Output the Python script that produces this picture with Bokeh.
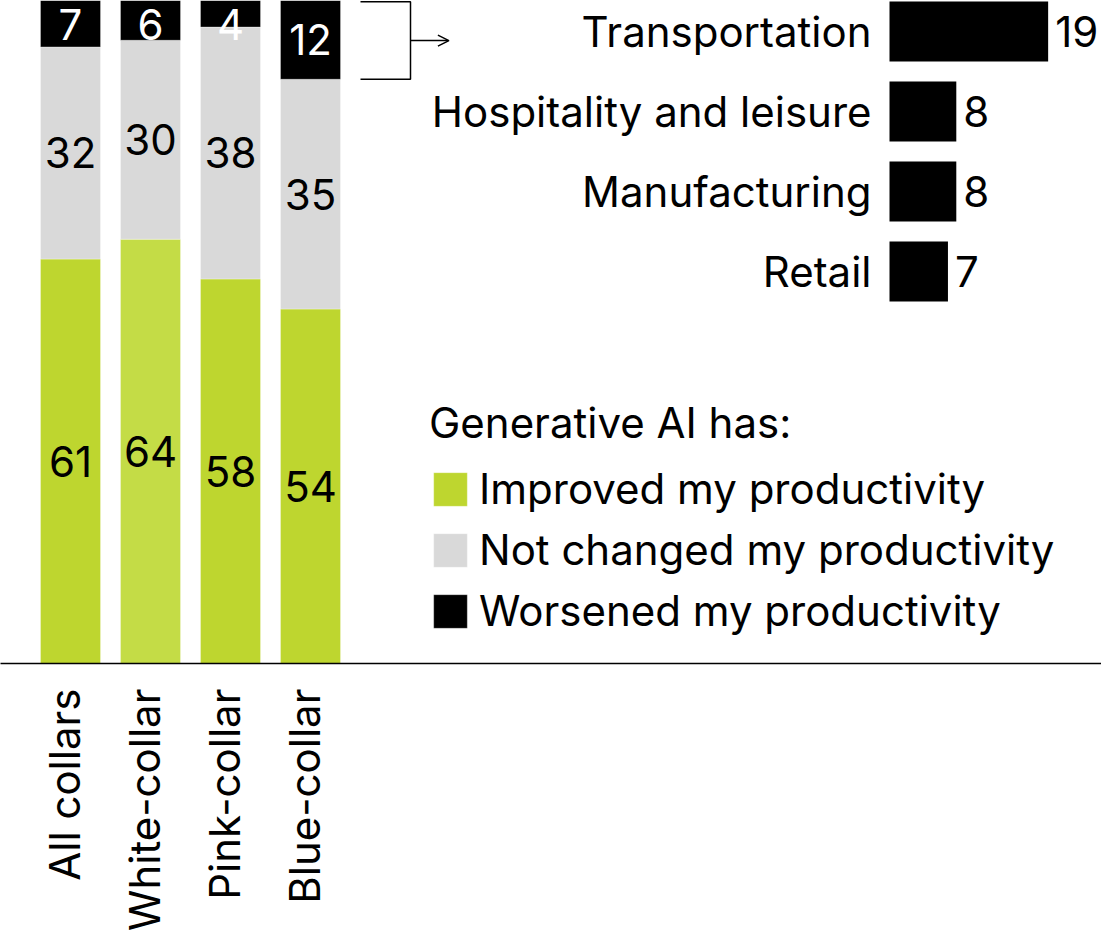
import numpy as np
from bokeh.plotting import figure
from bokeh.models import (Range1d, ColumnDataSource, FixedTicker, Legend, LegendItem,
                          Arrow, OpenHead)
from bokeh.core.properties import value
from bokeh.embed import file_html
from bokeh.resources import INLINE

# ---------------- data ----------------
collars = ["All collars", "White-collar", "Pink-collar", "Blue-collar"]
improved = [61, 64, 58, 54]
not_changed = [32, 30, 38, 35]
worsened = [7, 6, 4, 12]
improved_colors = ["#bed62f", "#c4dc46", "#bed62f", "#bed62f"]

industries = ["Transportation", "Hospitality and leisure", "Manufacturing", "Retail"]
industry_worsened = [19, 8, 8, 7]

legend_title = "Generative AI has:"
series_labels = ["Improved my productivity", "Not changed my productivity",
                 "Worsened my productivity"]

# ---------------- style ----------------
FONT = "Inter"
FS = "42px"
GREY = "#d9d9d9"
BLACK = "#000000"
W, H = 1101, 943
BASE = 663            # frame height (baseline position)
BAR_PITCH = 80        # px per category
Y_PX = 6.63           # px per percentage point
H_PX = 8.35           # px per point for the industry bars
H_X0 = 889            # px where industry bars start
H_PITCH = 80
H_Y0 = 31
LABEL_SHIFT = -0.075  # nudge of the rotated category labels (in category units)
TOP_LABEL_PAD = 24    # px: keep top segment labels inside the frame

idx = np.arange(len(collars))
imp = np.array(improved, float)
nch = np.array(not_changed, float)
wor = np.array(worsened, float)
tot = imp + nch + wor
# shares of each bar total
c1 = imp / tot * 100
c2 = (imp + nch) / tot * 100
c3 = (imp + nch + wor) / tot * 100

p = figure(width=W, height=H, output_backend="svg", toolbar_location=None,
           x_range=Range1d(-70 / BAR_PITCH, -70 / BAR_PITCH + W / BAR_PITCH),
           y_range=Range1d(0, BASE / Y_PX),
           y_axis_location=None, min_border=0, min_border_bottom=H - BASE,
           min_border_left=0, min_border_right=0, min_border_top=0)
p.outline_line_color = None
p.xgrid.visible = False
p.ygrid.visible = False
p.background_fill_color = "white"
p.border_fill_color = "white"

p.extra_x_ranges = {"h": Range1d(-H_X0 / H_PX, (W - H_X0) / H_PX)}
p.extra_y_ranges = {"h": Range1d(-H_Y0 / H_PITCH + BASE / H_PITCH, -H_Y0 / H_PITCH)}

# ---------------- stacked bars ----------------
src = ColumnDataSource(dict(x=idx, c0=np.zeros(len(idx)), c1=c1, c2=c2, c3=c3,
                            col=improved_colors))
bar_kw = dict(x="x", width=0.75, line_color="white", line_alpha=0.3, line_width=1,
              source=src)
r_imp = p.vbar(bottom="c0", top="c1", fill_color="col", **bar_kw)
r_nch = p.vbar(bottom="c1", top="c2", fill_color=GREY, **bar_kw)
r_wor = p.vbar(bottom="c2", top="c3", fill_color=BLACK, **bar_kw)

y_cap = 100 - TOP_LABEL_PAD / Y_PX
for lo, hi, vals, color in [(np.zeros(len(idx)), c1, improved, BLACK),
                            (c1, c2, not_changed, BLACK),
                            (c2, c3, worsened, "white")]:
    p.text(x=idx, y=np.minimum((lo + hi) / 2, y_cap), text=[str(v) for v in vals],
           text_align="center", text_baseline="middle",
           text_font=value(FONT), text_font_size=FS, text_color=color)

# bracket + arrow pointing from blue-collar "worsened" segment
bi = collars.index("Blue-collar")
b_top = min(c3[bi], 100) - 0.2
b_bot = c2[bi]
p.line(x=[bi + 0.625, bi + 1.25, bi + 1.25, bi + 0.625],
       y=[b_top, b_top, b_bot, b_bot], line_color=BLACK, line_width=1.5)
p.add_layout(Arrow(end=OpenHead(size=11, line_width=1.5, line_color=BLACK),
                   x_start=bi + 1.25, y_start=(b_top + b_bot) / 2,
                   x_end=bi + 1.73, y_end=(b_top + b_bot) / 2,
                   line_width=1.5, line_color=BLACK))

# ---------------- industry bars ----------------
hidx = np.arange(len(industries))
p.hbar(y=hidx, height=0.75, left=0, right=industry_worsened, fill_color=BLACK,
       line_color=None, x_range_name="h", y_range_name="h")
p.text(x=np.zeros(len(hidx)), y=hidx, text=industries, x_offset=-18,
       text_align="right", text_baseline="middle", text_font=value(FONT),
       text_font_size=FS, text_color=BLACK, x_range_name="h", y_range_name="h")
p.text(x=industry_worsened, y=hidx, text=[str(v) for v in industry_worsened],
       x_offset=7, text_align="left", text_baseline="middle",
       text_font=value(FONT), text_font_size=FS, text_color=BLACK,
       x_range_name="h", y_range_name="h")

# ---------------- axis ----------------
tick_pos = [float(i) + LABEL_SHIFT for i in idx]
ax = p.xaxis[0]
ax.ticker = FixedTicker(ticks=tick_pos)
ax.major_label_overrides = {t: c for t, c in zip(tick_pos, collars)}
ax.major_label_orientation = np.pi / 2
ax.major_label_standoff = 19
ax.major_label_text_font = FONT
ax.major_label_text_font_size = FS
ax.major_label_text_color = BLACK
ax.axis_line_color = BLACK
ax.axis_line_width = 1.5
ax.major_tick_line_color = None
ax.minor_tick_line_color = None

# ---------------- legend ----------------
legend = Legend(items=[LegendItem(label=series_labels[0], renderers=[r_imp], index=0),
                       LegendItem(label=series_labels[1], renderers=[r_nch], index=0),
                       LegendItem(label=series_labels[2], renderers=[r_wor], index=0)],
                location=(429, 27), title=legend_title,
                title_text_font=FONT, title_text_font_size=FS,
                title_text_font_style="normal", title_text_color=BLACK,
                title_standoff=15,
                label_text_font=FONT, label_text_font_size=FS, label_text_color=BLACK,
                glyph_width=42, glyph_height=42, label_standoff=8, spacing=10,
                padding=0, margin=0, border_line_color=None,
                background_fill_alpha=0)
p.add_layout(legend, "center")

open("out.html", "w").write(file_html(p, INLINE))
